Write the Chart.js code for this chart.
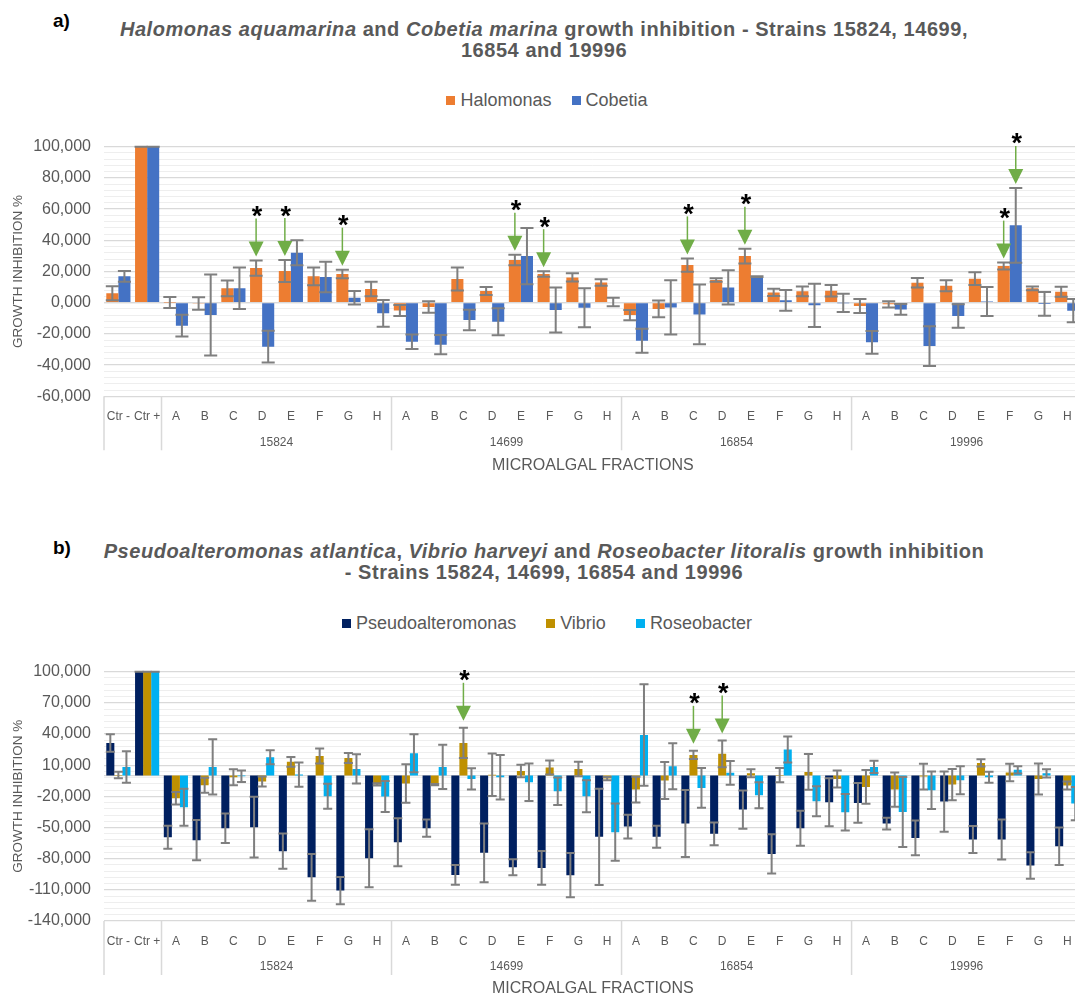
<!DOCTYPE html>
<html>
<head>
<meta charset="utf-8">
<script src="https://cdn.jsdelivr.net/npm/chart.js@4"></script>
<style>
html,body{margin:0;padding:0;background:#fff;overflow:hidden;width:1075px;height:998px;}
#page{position:relative;width:1075px;height:998px;overflow:hidden;font-family:"Liberation Sans",Arial,sans-serif;}
canvas{position:absolute;left:0;}
.title{position:absolute;left:0;width:1088px;text-align:center;color:#595959;font-weight:bold;font-size:20px;letter-spacing:0.55px;line-height:21px;white-space:nowrap;}
.panel{position:absolute;left:53px;font-weight:bold;font-size:19px;line-height:19px;color:#000;}
.legend{position:absolute;left:0;width:1094px;display:flex;justify-content:center;font-size:18px;color:#595959;line-height:20px;}
.legend .item{display:flex;align-items:center;margin:0 10px;}
#legB .item{margin:0 15px;}
.legend .sw{display:inline-block;width:9px;height:9px;margin-right:5px;}
</style>
</head>
<body>
<div id="page">
  <div class="panel" style="top:11px;">a)</div>
  <div class="title" style="top:19px;"><i>Halomonas aquamarina</i> and <i>Cobetia marina</i> growth inhibition - Strains 15824, 14699,<br>16854 and 19996</div>
  <div class="legend" id="legA" style="top:90px;"></div>
  <canvas id="chartA" width="1090" height="490" style="top:0px;"></canvas>

  <div class="panel" style="top:538px;">b)</div>
  <div class="title" style="top:541px;"><i>Pseudoalteromonas atlantica</i>, <i>Vibrio harveyi</i> and <i>Roseobacter litoralis</i> growth inhibition<br>- Strains 15824, 14699, 16854 and 19996</div>
  <div class="legend" id="legB" style="top:613px;"></div>
  <canvas id="chartB" width="1090" height="490" style="top:520px;"></canvas>
</div>
<script>
// ---------- categories ----------
const controls = ['Ctr -', 'Ctr +'];
const strains = ['15824', '14699', '16854', '19996'];
const fractions = ['A', 'B', 'C', 'D', 'E', 'F', 'G', 'H'];
const categories = controls.concat(...strains.map(() => fractions));

// ---------- chart a: Halomonas / Cobetia ----------
const halomonas = [6, 100,
  0.1, -0.5, 9.2, 22.2, 20.3, 16.9, 18.4, 8.8,
  -5, -2.8, 15.2, 7.5, 27.4, 18.4, 16.2, 13,
  -7.9, -4, 24.1, 14.5, 29.9, 6.6, 7.3, 7.7,
  -2.1, -1, 12.8, 10.9, 15.4, 23.5, 9.2, 7];
const halomonasErr = [4.5, 0,
  3.5, 4, 5, 4.9, 7, 5.7, 2.8, 4.6,
  3.5, 3.7, 7.3, 2.5, 3.4, 1.8, 2.6, 2.1,
  3.3, 5.4, 4.3, 1.1, 4.7, 2.3, 3.1, 3.7,
  4.5, 2, 3, 3.5, 4.1, 2.2, 1.2, 3.2];
const cobetia = [16.9, 100,
  -14.7, -7.9, 9.2, -28.2, 32, 16.5, 3.2, -6.8,
  -25, -26.9, -11.1, -12.2, 29.9, -4.7, -3.2, 0.5,
  -24.4, -3, -7.5, 9.8, 16.7, 1.5, -1.7, -0.1,
  -25.4, -4.3, -27.8, -8.5, 0.7, 49.6, -0.8, -5.1];
const cobetiaErr = [3.5, 0,
  7, 26, 13.3, 10.2, 8, 9.8, 4.3, 8.6,
  4.6, 6.2, 6.6, 8.6, 18, 14.4, 12.5, 2.7,
  7.7, 17.4, 19.1, 11, 0.3, 6.6, 13.8, 5.9,
  7.3, 3.4, 12.7, 7.5, 9.3, 24, 7.6, 7.4];
const yTicksA = {min: -60, max: 100, labelStep: 20, minorCount: 41};
const arrowsA = [
  ['Halomonas', '15824', 'D'], ['Halomonas', '15824', 'E'], ['Halomonas', '15824', 'G'],
  ['Halomonas', '14699', 'E'], ['Halomonas', '14699', 'F'],
  ['Halomonas', '16854', 'C'], ['Halomonas', '16854', 'E'],
  ['Halomonas', '19996', 'F'], ['Cobetia', '19996', 'F']];

// ---------- chart b: Pseudoalteromonas / Vibrio / Roseobacter ----------
const pseudo = [31.4, 100,
  -59.4, -62.2, -50.7, -49.7, -72.8, -97.9, -110.7, -79.6,
  -64.2, -50.7, -95.6, -74.4, -88.2, -88.9, -95.9, -59,
  -49.1, -59, -46.2, -56.1, -32.7, -75.4, -50.7, -25.7,
  -26.3, -46.2, -60, -25, -61.6, -61.6, -86.6, -68];
const pseudoErr = [8.5, 0,
  11, 19.4, 14.3, 29.2, 17, 22.5, 13.1, 27.9,
  23.2, 8.3, 9.4, 28.2, 7.7, 16.2, 21.3, 46.4,
  11.4, 10.6, 32.2, 10.9, 18.4, 18.9, 16.8, 23.1,
  19.1, 5.6, 16.7, 29, 13, 19.3, 12.7, 18.1];
const vibrio = [0.6, 100,
  -21.8, -9.3, -1.5, -5.8, 13.2, 18.9, 17, -8.5,
  -7.7, -8.7, 31.4, 0.8, 4.5, 7.7, 6.4, -2.9,
  -13.5, -4.8, 19.9, 20.9, 2.2, 0.5, 3.5, -3.2,
  -10.9, -13.5, -1, -8.7, 12.2, 3, -3.2, -9.6];
const vibrioErr = [3.2, 0,
  6, 7.2, 7.7, 4.8, 4.8, 7.2, 4.8, 1,
  18.5, 0.5, 14.6, 20.4, 6, 6.7, 7, 1.6,
  12.4, 17.8, 3.9, 12.8, 3.8, 6.9, 17.2, 8.2,
  16.2, 16.5, 12.5, 15.1, 3.5, 8.5, 14.9, 3.9];
const roseo = [8.3, 100,
  -30.5, 8.3, -0.6, 17.6, 1, -19.9, 6.4, -20.2,
  21.5, 8.3, -3.2, -1.6, -6.4, -15.1, -19.9, -54.5,
  39.1, 9, -11.9, 2.6, -18.9, 25, -24.7, -35.3,
  8.3, -35, -14.1, -4.5, -1.6, 5.5, 2.2, -26.9];
const roseoErr = [15.2, 0,
  17.8, 26.6, 5.5, 6.7, 11.7, 12, 14.1, 14.9,
  18.2, 21.3, 10.3, 21.5, 18.1, 13.3, 15.4, 27.5,
  48.9, 22.1, 19.1, 11.4, 12.5, 12.5, 14.4, 17.6,
  5.9, 33.7, 18.1, 13.5, 5.4, 3.5, 4, 16];
const yTicksB = {min: -140, max: 100, labelStep: 30, minorCount: 41};
const arrowsB = [['Vibrio', '14699', 'C'], ['Vibrio', '16854', 'C'], ['Vibrio', '16854', 'D']];

// ---------- drawing helpers ----------
const FONT = '"Liberation Sans", Arial, sans-serif';
const GREY = '#595959';
Chart.defaults.font.family = FONT;

function catIndex(strain, fraction) {
  return controls.length + strains.indexOf(strain) * fractions.length + fractions.indexOf(fraction);
}

const extras = {
  id: 'extras',
  beforeDatasetsDraw(chart) {
    const ctx = chart.ctx, ys = chart.scales.y, {left, right} = chart.chartArea;
    const y0 = ys.getPixelForValue(0);
    ctx.save();
    ctx.strokeStyle = '#d9d9d9'; ctx.lineWidth = 1.3;
    ctx.beginPath(); ctx.moveTo(left, y0); ctx.lineTo(right, y0); ctx.stroke();
    ctx.restore();
  },
  afterDatasetsDraw(chart) {
    const ctx = chart.ctx, ys = chart.scales.y;
    ctx.save();
    ctx.strokeStyle = '#7f7f7f'; ctx.lineWidth = 2;
    chart.data.datasets.forEach((ds, di) => {
      chart.getDatasetMeta(di).data.forEach((bar, i) => {
        const v = ds.data[i], e = ds.errors[i];
        const yT = ys.getPixelForValue(v + e), yB = ys.getPixelForValue(v - e);
        const hw = bar.width / 2 + 0.5;
        ctx.beginPath();
        ctx.moveTo(bar.x, yT); ctx.lineTo(bar.x, yB);
        ctx.moveTo(bar.x - hw, yT); ctx.lineTo(bar.x + hw, yT);
        ctx.moveTo(bar.x - hw, yB); ctx.lineTo(bar.x + hw, yB);
        ctx.stroke();
      });
    });
    ctx.restore();
  },
  afterDraw(chart, args, opts) {
    const ctx = chart.ctx, xs = chart.scales.x, ys = chart.scales.y;
    const bottom = chart.chartArea.bottom;
    const cw = xs.getPixelForValue(1) - xs.getPixelForValue(0);
    ctx.save();
    // group separators of the two-level category axis
    const bounds = [0, controls.length];
    strains.forEach((s, k) => bounds.push(controls.length + (k + 1) * fractions.length));
    ctx.strokeStyle = '#d9d9d9'; ctx.lineWidth = 1.5;
    bounds.forEach(b => {
      const x = xs.getPixelForValue(0) + (b - 0.5) * cw;
      ctx.beginPath(); ctx.moveTo(x, bottom); ctx.lineTo(x, bottom + 54); ctx.stroke();
    });
    // group labels
    ctx.fillStyle = GREY; ctx.font = '12px ' + FONT;
    ctx.textAlign = 'center'; ctx.textBaseline = 'middle';
    strains.forEach((s, k) => {
      const i0 = controls.length + k * fractions.length;
      const x = (xs.getPixelForValue(i0) + xs.getPixelForValue(i0 + fractions.length - 1)) / 2;
      ctx.fillText(s, x, bottom + 46);
    });
    // significance arrows
    (opts.arrows || []).forEach(([series, strain, fraction]) => {
      const di = chart.data.datasets.findIndex(d => d.label === series);
      const i = catIndex(strain, fraction);
      const ds = chart.data.datasets[di];
      const x = chart.getDatasetMeta(di).data[i].x;
      const tip = ys.getPixelForValue(ds.data[i] + ds.errors[i]) - opts.gap;
      ctx.fillStyle = '#70AD47'; ctx.strokeStyle = '#70AD47';
      ctx.beginPath(); ctx.moveTo(x, tip); ctx.lineTo(x - 7.5, tip - 15); ctx.lineTo(x + 7.5, tip - 15); ctx.closePath(); ctx.fill();
      ctx.lineWidth = 1.5;
      ctx.beginPath(); ctx.moveTo(x, tip - 14); ctx.lineTo(x, tip - 38); ctx.stroke();
      ctx.fillStyle = '#000'; ctx.font = 'bold 27px ' + FONT;
      ctx.textAlign = 'center'; ctx.textBaseline = 'alphabetic';
      ctx.fillText('*', x + 1, tip - 47 + 15.5);
    });
    ctx.restore();
  }
};

function buildLegend(id, series) {
  const el = document.getElementById(id);
  series.forEach(s => {
    const it = document.createElement('div'); it.className = 'item';
    const sw = document.createElement('span'); sw.className = 'sw'; sw.style.background = s.color;
    const tx = document.createElement('span'); tx.textContent = s.name;
    it.appendChild(sw); it.appendChild(tx); el.appendChild(it);
  });
}

function makeChart(id, series, yt, cfg) {
  buildLegend(cfg.legend, series);
  return new Chart(document.getElementById(id), {
    type: 'bar',
    data: {
      labels: categories,
      datasets: series.map(s => ({
        label: s.name, data: s.values, errors: s.errors, backgroundColor: s.color,
        borderWidth: 0, categoryPercentage: 0.84, barPercentage: 1
      }))
    },
    options: {
      responsive: false, animation: false,
      layout: {padding: {top: cfg.plotTop, right: 8.4, bottom: 0, left: 0}},
      plugins: {legend: {display: false}, tooltip: {enabled: false},
        extras: {arrows: cfg.arrows, gap: cfg.gap}},
      scales: {
        x: {
          grid: {display: false}, border: {display: false},
          ticks: {autoSkip: false, maxRotation: 0, minRotation: 0, padding: 5.5, color: GREY, font: {size: 12}},
          title: {display: true, text: 'MICROALGAL FRACTIONS', color: GREY, font: {size: 16},
                  padding: {top: 0, bottom: cfg.xTitlePad}},
          afterFit: s => { s.height = 490 - cfg.plotBottom; }
        },
        y: {
          min: yt.min, max: yt.max,
          ticks: {count: yt.minorCount, autoSkip: false, padding: 13, color: GREY, font: {size: 16},
                  callback: v => (Math.round(v - yt.min) % yt.labelStep === 0) ? v.toFixed(3).replace('.', ',') : ''},
          grid: {drawTicks: false,
                 color: c => (c.tick && Math.round(c.tick.value - yt.min) % yt.labelStep === 0) ? '#d9d9d9' : '#eeeeee',
                 lineWidth: c => (c.tick && Math.round(c.tick.value - yt.min) % yt.labelStep === 0) ? 1.3 : 1},
          border: {display: false},
          title: {display: true, text: 'GROWTH INHIBITION %', color: GREY, font: {size: 13.5},
                  padding: {top: 10, bottom: 0}},
          afterFit: s => { s.width = 104; }
        }
      }
    },
    plugins: [extras]
  });
}

makeChart('chartA', [
  {name: 'Halomonas', values: halomonas, errors: halomonasErr, color: '#ED7D31'},
  {name: 'Cobetia', values: cobetia, errors: cobetiaErr, color: '#4472C4'}
], yTicksA, {legend: 'legA', plotTop: 146.7, plotBottom: 396.3, xTitlePad: 14.5, arrows: arrowsA, gap: 4});

makeChart('chartB', [
  {name: 'Pseudoalteromonas', values: pseudo, errors: pseudoErr, color: '#002060'},
  {name: 'Vibrio', values: vibrio, errors: vibrioErr, color: '#BF9000'},
  {name: 'Roseobacter', values: roseo, errors: roseoErr, color: '#00B0F0'}
], yTicksB, {legend: 'legB', plotTop: 151.7, plotBottom: 401, xTitlePad: 12.1, arrows: arrowsB, gap: 7});
</script>
</body>
</html>
